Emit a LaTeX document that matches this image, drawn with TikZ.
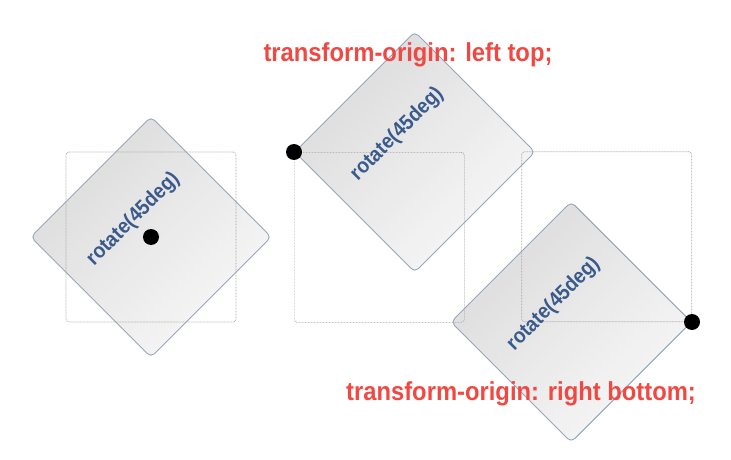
\documentclass[tikz,border=0pt]{standalone}
\usepackage{fontspec}
\setmainfont{Liberation Sans}[FakeStretch=0.915]
\definecolor{notered}{RGB}{240,72,66}
\definecolor{cardblue}{RGB}{58,90,140}
\definecolor{cardedge}{RGB}{150,166,186}
\begin{document}
\begin{tikzpicture}[x=1pt,y=1pt,
    frame/.style={draw=gray!70, line width=0.7pt, dash pattern=on 0.7pt off 0.8pt, rounded corners=3pt,
      minimum size=170pt, inner sep=0pt},
    card/.style={draw=cardedge, line width=0.9pt, rounded corners=5pt, minimum size=170pt, inner sep=0pt,
      top color=gray!33, bottom color=gray!7, shading angle=45, fill opacity=0.85, rotate=45},
    pin/.style={circle, fill=black, minimum size=16pt, inner sep=0pt},
    tag/.style={text=cardblue, font=\fontsize{21}{24}\selectfont\bfseries, rotate=45},
    note/.style={text=notered, font=\fontsize{26}{30}\selectfont\bfseries, anchor=base}]
    \useasboundingbox (0,0) rectangle (731,459);

    % rotated cards
    \node[card] (d1) at (151,222) {};
    \node[card, anchor=north west] (d2) at (294,307) {};
    \node[card, anchor=south east] (d3) at (692,137) {};

    % dotted boxes before the transform
    \node[frame, anchor=center] (f1) at (d1.center) {};
    \node[frame, anchor=north west] (f2) at (d2.north west) {};
    \node[frame, anchor=south east] (f3) at (d3.south east) {};

    \node[tag] (t1) at ([shift={(135:25)}]d1.center) {rotate(45deg)};
    \node[tag] (t2) at ([shift={(135:25)}]d2.center) {rotate(45deg)};
    \node[tag] (t3) at ([shift={(135:25)}]d3.center) {rotate(45deg)};

    % origins
    \node[pin] (o1) at (d1.center) {};
    \node[pin] (o2) at (f2.north west) {};
    \node[pin] (o3) at (f3.south east) {};

    \node[note] (n1) at (408,397) {transform-origin: left top;};
    \node[note] (n2) at (521,59) {transform-origin: right bottom;};
\end{tikzpicture}
\end{document}
